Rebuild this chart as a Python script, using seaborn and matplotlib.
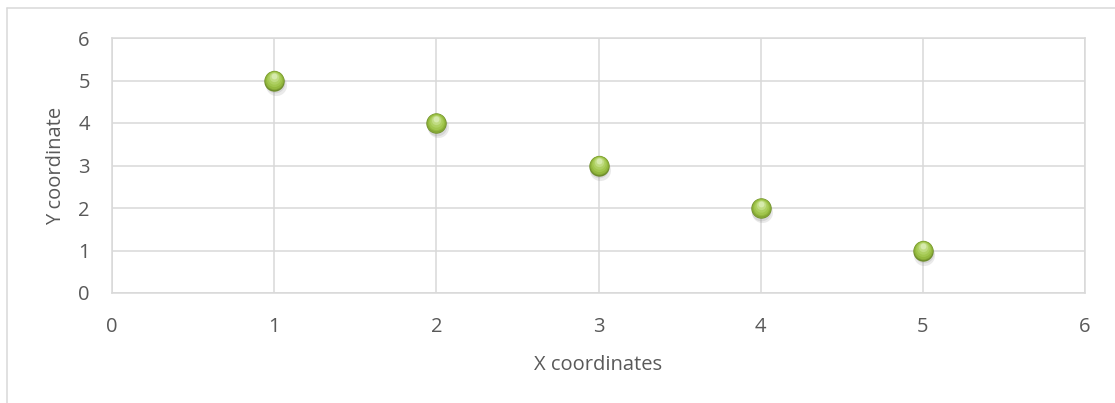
import matplotlib
matplotlib.use("Agg")
import matplotlib.pyplot as plt
import matplotlib.transforms as mtransforms
from matplotlib.lines import Line2D
import seaborn as sns
import pandas as pd

# data
x_values = [1, 2, 3, 4, 5]
y_values = [5, 4, 3, 2, 1]
x_label = "X coordinates"
y_label = "Y coordinate"
x_ticks = [0, 1, 2, 3, 4, 5, 6]
y_ticks = [0, 1, 2, 3, 4, 5, 6]

df = pd.DataFrame({"x": x_values, "y": y_values})

sns.set_theme(style="white")
plt.rcParams["font.family"] = ["Open Sans", "DejaVu Sans"]

TEXT = "#595959"
GRID = "#D9D9D9"

fig = plt.figure(figsize=(11.15, 4.03), dpi=100)
ax = fig.add_axes([112 / 1115, 1 - 293 / 403, (1085 - 112) / 1115, (293 - 38) / 403])

def shifted(coll, dx_pt, dy_pt):
    coll.set_offset_transform(
        ax.transData + mtransforms.ScaledTranslation(dx_pt / 72, dy_pt / 72, fig.dpi_scale_trans)
    )

# shadow
sns.scatterplot(data=df, x="x", y="y", ax=ax, s=230, color="#7f7f7f", alpha=0.16,
                linewidth=0, legend=False, zorder=3)
shifted(ax.collections[-1], 1.0, -3.0)
sns.scatterplot(data=df, x="x", y="y", ax=ax, s=200, color="#7f7f7f", alpha=0.18,
                linewidth=0, legend=False, zorder=3)
shifted(ax.collections[-1], 0.5, -2.0)

# sphere layers
layers = [
    (215, "#6E8D2C", 0, 0),
    (195, "#84A636", 0, 0.2),
    (160, "#94B93F", 0, 0.6),
    (120, "#A1C64E", 0, 1.0),
    (80, "#AED062", 0, 1.6),
    (45, "#C0DC82", 0, 2.4),
    (18, "#D6EAAC", 0, 3.2),
]
for s, c, dx, dy in layers:
    sns.scatterplot(data=df, x="x", y="y", ax=ax, s=s, color=c, linewidth=0,
                    legend=False, zorder=4)
    shifted(ax.collections[-1], dx, dy)

ax.set_xlim(0, 6)
ax.set_ylim(0, 6)
ax.set_xticks(x_ticks)
ax.set_yticks(y_ticks)
ax.set_xticklabels([str(t) for t in x_ticks])
ax.set_yticklabels([str(t) for t in y_ticks])
ax.grid(True, color=GRID, linewidth=1.1)
ax.set_axisbelow(True)
for sp in ax.spines.values():
    sp.set_visible(True)
    sp.set_color(GRID)
    sp.set_linewidth(1.1)
ax.tick_params(axis="both", length=0, labelsize=14.5, colors=TEXT)
ax.tick_params(axis="x", pad=17)
ax.tick_params(axis="y", pad=16)
ax.set_xlabel(x_label, fontsize=14.5, color=TEXT, labelpad=13)
ax.set_ylabel(y_label, fontsize=14.5, color=TEXT, labelpad=9)

# chart area border (left and top visible)
fig.add_artist(Line2D([7 / 1115, 7 / 1115], [0, 1 - 8 / 403], color=GRID, linewidth=1.1,
                      transform=fig.transFigure))
fig.add_artist(Line2D([7 / 1115, 1], [1 - 8 / 403, 1 - 8 / 403], color=GRID, linewidth=1.1,
                      transform=fig.transFigure))

fig.savefig("out.png", dpi=100, facecolor="white")
